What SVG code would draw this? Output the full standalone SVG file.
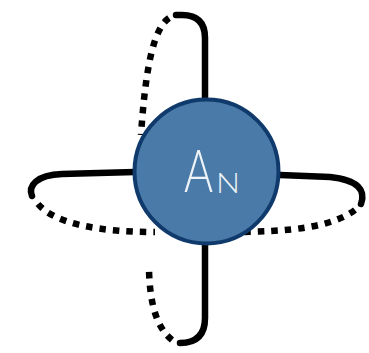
<svg xmlns="http://www.w3.org/2000/svg" width="369" height="353" viewBox="0 0 369 353">
<style>
.solid{fill:none;stroke:#000;stroke-width:6.5;stroke-linecap:round}
.dot{fill:none;stroke:#000;stroke-width:6.5;stroke-dasharray:6.5 7;stroke-linecap:butt}
.lbl{font-family:Lato,"Open Sans","Liberation Sans",sans-serif;font-weight:300;fill:#eef3f8}
</style>
<rect width="369" height="353" fill="#fff"/>
<g id="connectors">
<path class="solid" d="M205 100 V38 Q205 15 182 15 L176 15"/>
<path class="dot" d="M169 18 C155 28 146 60 141 135"/>
<path class="solid" d="M135 172 L62 174 C36 175 28 186 32 196"/>
<path class="dot" d="M38 204 C55 224 100 232 155 232"/>
<path class="solid" d="M280 175 L330 177 C358 180 366 190 361 204"/>
<path class="dot" d="M355 210 C332 227 290 232 232 232"/>
<path class="solid" d="M205 245 V318 Q205 343 180 343"/>
<path class="dot" d="M172 340 C157 328 150 305 149 270"/>
</g>
<g id="node-AN">
<circle cx="206.5" cy="171.5" r="72" fill="#4A7AA7" stroke="#0F3A6B" stroke-width="4"/>
<text class="lbl" transform="translate(184 192) scale(0.74 1)" font-size="60">A</text>
<text class="lbl" x="216" y="193" font-size="28" textLength="24" lengthAdjust="spacingAndGlyphs">N</text>
</g>
</svg>
